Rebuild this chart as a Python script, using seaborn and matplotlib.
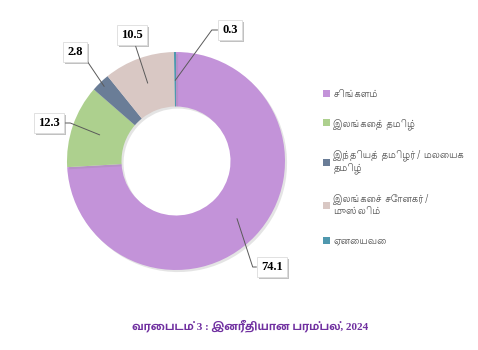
import matplotlib
matplotlib.use("Agg")
import numpy as np
import matplotlib.pyplot as plt
import matplotlib.patheffects as pe
import seaborn as sns

# ---------------- data ----------------
categories = [
    "சிங்களம்",
    "இலங்கைத் தமிழ்",
    "இந்தியத் தமிழர்/ மலையக\nதமிழ்",
    "இலங்கைச் சோனகர்/\nமுஸ்லிம்",
    "ஏனையவை",
]
values = [74.1, 12.3, 2.8, 10.5, 0.3]
value_labels = ["74.1", "12.3", "2.8", "10.5", "0.3"]
title = "வரைபடம் 3 : இனரீதியான பரம்பல், 2024"

# ---------------- style ----------------
palette = sns.color_palette(["#C393D9", "#ADD08E", "#6A7D97", "#D9C8C4", "#4F98AE"])

sns.set_theme(style="white")
plt.rcParams["font.family"] = ["Lohit Tamil", "Noto Sans Tamil", "DejaVu Sans"]

W, H = 478, 350


def Y(p):
    return H - p


fig = plt.figure(figsize=(W / 100, H / 100), dpi=100)
ax = fig.add_axes([0, 0, 1, 1])

cx, cy, R = 176, Y(161), 109
wedges, _ = ax.pie(
    values,
    colors=palette,
    startangle=90,
    counterclock=False,
    radius=R,
    center=(cx, cy),
    wedgeprops=dict(width=R * 0.5, edgecolor="none", linewidth=0),
)
for w in wedges:
    w.set_path_effects([pe.SimplePatchShadow(offset=(1.5, -1.5), shadow_rgbFace="#888888", alpha=0.22), pe.Normal()])

ax.set_xlim(0, W)
ax.set_ylim(0, H)
ax.set_axis_off()

# label layout (pixel positions of the label boxes, anchor radius fraction, elbow angle)
label_pos = [(272, 267), (49, 123), (75, 52), (132, 35), (230, 30)]
anchor_frac = [0.77, 0.74, 0.95, 0.76, 0.74]
elbow = [-72, 158, 124, None, 54]

for i, w in enumerate(wedges):
    th = np.deg2rad((w.theta1 + w.theta2) / 2)
    r = R * anchor_frac[i]
    anchor = (cx + r * np.cos(th), cy + r * np.sin(th))
    if elbow[i] is None:
        cs = "arc3,rad=0"
    else:
        cs = f"angle,angleA=0,angleB={elbow[i]},rad=0"
    ann = ax.annotate(
        value_labels[i],
        xy=anchor,
        xytext=(label_pos[i][0], Y(label_pos[i][1])),
        ha="center",
        va="center",
        fontfamily="Liberation Serif",
        fontweight="bold",
        fontsize=9,
        color="#000000",
        bbox=dict(boxstyle="square,pad=0.35", fc="white", ec="#dcdcdc", lw=0.6),
        arrowprops=dict(arrowstyle="-", color="#5a5a5a", lw=0.7, connectionstyle=cs,
                        shrinkA=0, shrinkB=0),
    )
    ann.get_bbox_patch().set_path_effects(
        [pe.SimplePatchShadow(offset=(1.5, -1.5), shadow_rgbFace="#777777", alpha=0.45), pe.Normal()]
    )

leg = fig.legend(
    handles=wedges,
    labels=categories,
    loc="upper left",
    bbox_to_anchor=(314 / W, Y(80) / H),
    frameon=False,
    handlelength=0.7,
    handleheight=0.7,
    handletextpad=0.4,
    labelspacing=2.0,
    labelcolor="#505050",
    prop={"family": ["Lohit Tamil", "DejaVu Sans"], "size": 7},
)
for h in leg.legend_handles:
    h.set_path_effects([pe.Normal()])

fig.text(250 / W, Y(326) / H, title, ha="center", va="center", fontsize=8,
         fontweight="bold", color="#7030A0",
         family=["Liberation Serif", "Hind Madurai", "DejaVu Sans"])

fig.savefig("out.png", dpi=100)
